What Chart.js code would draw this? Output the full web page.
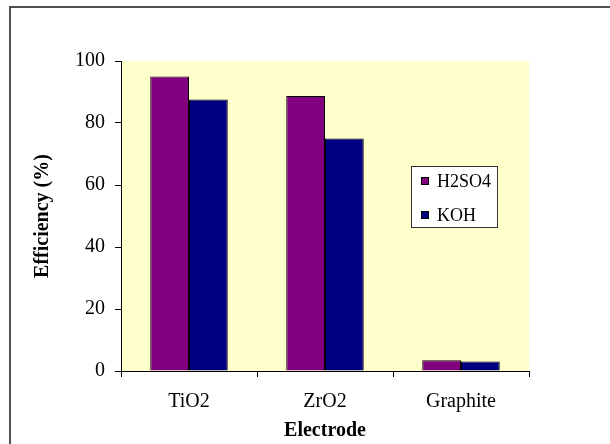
<!DOCTYPE html>
<html>
<head>
<meta charset="utf-8">
<script src="https://cdn.jsdelivr.net/npm/chart.js@4/dist/chart.umd.min.js"></script>
<style>
  html, body { margin: 0; padding: 0; background: #fff; }
  #wrap { width: 610px; height: 444px; position: relative; }
</style>
</head>
<body>
<div id="wrap"><canvas id="grafico" width="610" height="444"></canvas></div>
<script>
// dados
const eletrodos = ['TiO2', 'ZrO2', 'Graphite'];
const serieH2SO4 = [95, 88.7, 3.5];
const serieKOH = [87.6, 75, 3.1];
const ticksY = [0, 20, 40, 60, 80, 100];

const fonte = 'Liberation Serif, Times New Roman, serif';

// fundo amarelo da área do gráfico + moldura + título Y + legenda
const extras = {
  id: 'extras',
  beforeDraw(chart) {
    const { ctx, chartArea: a } = chart;
    ctx.save();
    ctx.fillStyle = '#FFFFCC';
    ctx.fillRect(a.left, a.top, a.right - a.left, a.bottom - a.top);
    // moldura externa (só topo e esquerda aparecem)
    ctx.strokeStyle = '#505050';
    ctx.lineWidth = 2;
    ctx.beginPath();
    ctx.moveTo(10, 444);
    ctx.lineTo(10, 7);
    ctx.lineTo(612, 7);
    ctx.stroke();
    ctx.restore();
  },
  afterDraw(chart) {
    const { ctx } = chart;
    ctx.save();
    // título do eixo Y
    ctx.translate(43, 216);
    ctx.rotate(-Math.PI / 2);
    ctx.font = 'bold 20px ' + fonte;
    ctx.fillStyle = '#000';
    ctx.textAlign = 'center';
    ctx.textBaseline = 'middle';
    ctx.fillText('Efficiency (%)', 0, 0);
    ctx.restore();

    // legenda
    ctx.save();
    ctx.fillStyle = '#fff';
    ctx.fillRect(411, 166, 86, 61);
    ctx.strokeStyle = '#333';
    ctx.lineWidth = 1;
    ctx.strokeRect(411.5, 166.5, 86, 61);
    ctx.font = '18px ' + fonte;
    ctx.textBaseline = 'middle';
    const ys = [181, 215];
    chart.data.datasets.forEach((ds, i) => {
      ctx.fillStyle = ds.backgroundColor;
      ctx.fillRect(421, ys[i] - 4, 8, 8);
      ctx.strokeStyle = '#000';
      ctx.strokeRect(421.5, ys[i] - 3.5, 7, 7);
      ctx.fillStyle = '#000';
      ctx.fillText(ds.label, 437, ys[i] + 1);
    });
    ctx.restore();
  }
};

new Chart(document.getElementById('grafico'), {
  type: 'bar',
  data: {
    labels: eletrodos,
    datasets: [
      { label: 'H2SO4', data: serieH2SO4, backgroundColor: '#800080', borderColor: '#000', borderWidth: 1 },
      { label: 'KOH', data: serieKOH, backgroundColor: '#000080', borderColor: '#000', borderWidth: 1 }
    ]
  },
  options: {
    responsive: false,
    animation: false,
    categoryPercentage: 0.57,
    barPercentage: 1.0,
    layout: { padding: { left: 0, top: 61, right: 81, bottom: 0 } },
    plugins: {
      legend: { display: false },
      tooltip: { enabled: false }
    },
    scales: {
      x: {
        afterFit: s => { s.height = 73; },
        grid: { offset: true, drawOnChartArea: false, drawTicks: true, tickLength: 6, color: '#000' },
        border: { display: true, color: '#000', width: 1 },
        ticks: { color: '#000', font: { family: fonte, size: 20 }, padding: 13 },
        title: { display: true, text: 'Electrode', color: '#000', font: { family: fonte, size: 20, weight: 'bold' }, padding: { top: 0, bottom: 1 } }
      },
      y: {
        min: 0,
        max: 100,
        afterFit: s => { s.width = 121; },
        afterBuildTicks: s => { s.ticks = ticksY.map(v => ({ value: v })); },
        grid: { drawOnChartArea: false, drawTicks: true, tickLength: 6, color: '#000' },
        border: { display: true, color: '#000', width: 1 },
        ticks: { color: '#000', font: { family: fonte, size: 20 }, padding: 10 }
      }
    }
  },
  plugins: [extras]
});
</script>
</body>
</html>
